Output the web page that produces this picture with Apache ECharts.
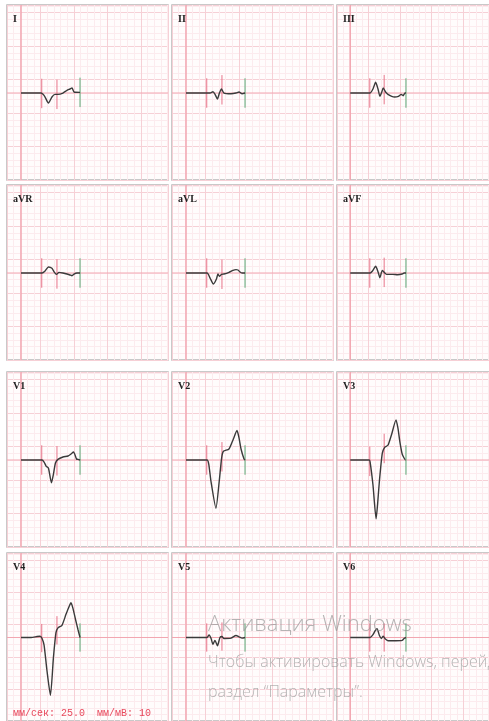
<!DOCTYPE html>
<html>
<head>
<meta charset="utf-8">
<script src="https://cdn.jsdelivr.net/npm/echarts@6/dist/echarts.min.js"></script>
<style>
html,body{margin:0;padding:0;background:#ffffff;}
#c{width:489px;height:721px;}
</style>
</head>
<body>
<div id="c"></div>
<script>
// ---- Data (time in ms from trace start, amplitude in mV) ----
const leadNames = ['I','II','III','aVR','aVL','aVF','V1','V2','V3','V4','V5','V6'];

const leadI   = [[0,0],[120,0],[132,-0.02],[144,-0.06],[164,-0.15],[185,-0.06],[203,-0.02],[221,-0.02],[251,0],[275,0.04],[293,0.06],[305,0.075],[317,0.015],[353,0.01]];
const leadII  = [[0,0],[126,0],[144,0],[161,0.02],[173,-0.015],[188,-0.09],[200,0],[212,0.06],[227,0],[269,-0.01],[299,0],[317,0.015],[335,-0.01],[353,0]];
const leadIII = [[0,0],[126,0],[144,0.06],[161,0.16],[176,0.06],[188,-0.05],[200,0.015],[209,0.075],[224,0.015],[239,-0.02],[263,-0.05],[281,-0.06],[305,-0.05],[323,-0.02],[335,-0.04],[347,0],[353,0]];
const leadAVR = [[0,0],[126,0],[144,0.03],[164,0.09],[185,0.07],[200,0.01],[212,-0.02],[227,0.01],[251,0],[275,-0.015],[293,-0.03],[305,-0.04],[317,-0.015],[335,0],[353,0]];
const leadAVL = [[0,0],[126,0],[144,-0.075],[164,-0.165],[182,-0.09],[191,-0.015],[200,-0.05],[212,-0.02],[227,-0.015],[257,0.01],[281,0.04],[299,0.05],[311,0.045],[323,0.015],[335,0],[353,0]];
const leadAVF = [[0,0],[126,0],[141,0.03],[161,0.1],[176,0.02],[188,-0.07],[203,0.04],[215,0.01],[230,-0.02],[269,-0.02],[299,-0.025],[329,-0.015],[341,0],[353,0]];
const leadV1  = [[0,0],[126,0],[138,-0.03],[150,-0.09],[164,-0.12],[182,-0.34],[194,-0.21],[206,-0.045],[221,0.01],[251,0.045],[281,0.06],[299,0.09],[314,0.12],[332,0.015],[341,0.01],[353,0]];
const leadV2  = [[0,0],[126,0],[136,-0.06],[150,-0.33],[179,-0.72],[199,-0.31],[213,0.03],[224,0.13],[257,0.165],[281,0.3],[305,0.44],[317,0.33],[329,0.165],[347,0.015],[353,0]];
const leadV3  = [[0,0],[120,0],[126,-0.03],[144,-0.37],[164,-0.88],[173,-0.67],[185,-0.31],[203,0.1],[218,0.19],[239,0.22],[263,0.39],[290,0.6],[302,0.48],[314,0.28],[329,0.09],[341,0.03],[350,0],[353,0]];
const leadV4  = [[0,0],[60,0],[96,0.015],[114,0.02],[126,-0.015],[138,-0.12],[155,-0.51],[176,-0.9],[194,-0.31],[209,0.075],[221,0.15],[245,0.19],[269,0.36],[287,0.48],[299,0.54],[311,0.45],[326,0.28],[341,0.12],[353,0]];
const leadV5  = [[0,0],[126,0],[138,0.04],[150,-0.015],[161,-0.105],[173,-0.045],[188,-0.13],[203,0],[215,0.015],[227,-0.015],[269,-0.01],[299,0.03],[317,0.01],[335,-0.01],[353,0]];
const leadV6  = [[0,0],[126,0],[144,0.045],[158,0.105],[170,0.135],[185,0.03],[197,-0.015],[209,0.02],[221,-0.02],[239,-0.05],[287,-0.05],[329,-0.045],[341,-0.015],[353,0]];

const markerTimes = [124, 215, 353];
const markerKinds = ['red', 'red', 'green'];
const markerHalfMv = 0.22;

const speedLabel = 'мм/сек: 25.0';
const gainLabel = 'мм/мВ: 10';
const watermark1 = 'Активация Windows';
const watermark2 = 'Чтобы активировать Windows, перейдите в';
const watermark3 = 'раздел “Параметры”.';

// ---- Layout ----
const PX_PER_MM = 6.69;
const MS_PER_MM = 40;   // 25 mm/s
const MV_PER_MM = 0.1;  // 10 mm/mV
const colLeft = [7, 172, 337];
const rowTop = [5, 185, 372, 553];
const panelW = 161, panelH = 175;
const originX = 14, baseY = 88;

const leads = [leadI, leadII, leadIII, leadAVR, leadAVL, leadAVF, leadV1, leadV2, leadV3, leadV4, leadV5, leadV6];

function valueAt(d, t) {
  for (let k = 1; k < d.length; k++) {
    if (t <= d[k][0]) {
      const a = d[k-1], b = d[k];
      const f = (t - a[0]) / (b[0] - a[0] || 1);
      return a[1] + f * (b[1] - a[1]);
    }
  }
  return d[d.length-1][1];
}

const msPerPx = MS_PER_MM / PX_PER_MM;
const mvPerPx = MV_PER_MM / PX_PER_MM;
const xMin = -originX * msPerPx, xMax = (panelW - originX) * msPerPx;
const yMin = -1.3, yMax = baseY * mvPerPx;
const gridLine = {color: '#f6d0d6', width: 1};
const minorLine = {color: '#fcebee', width: 1};
const refLine = {color: '#f2a6b1', width: 1};

const grids = [], xAxes = [], yAxes = [], series = [], titles = [];
leads.forEach((d, i) => {
  const r = Math.floor(i / 3), c = i % 3;
  grids.push({
    left: colLeft[c], top: rowTop[r], width: panelW, height: panelH,
    show: true, backgroundColor: '#fffcfc', borderColor: '#b8b8b8', borderWidth: 1.5
  });
  xAxes.push({
    type: 'value', gridIndex: i, min: xMin, max: xMax,
    interval: 5 * MS_PER_MM,
    axisLabel: {show: false}, axisTick: {show: false}, axisLine: {show: false},
    splitLine: {show: true, lineStyle: gridLine},
    minorTick: {show: false, splitNumber: 5},
    minorSplitLine: {show: true, lineStyle: minorLine}
  });
  yAxes.push({
    type: 'value', gridIndex: i, min: yMin, max: yMax,
    interval: 5 * MV_PER_MM,
    axisLabel: {show: false}, axisTick: {show: false}, axisLine: {show: false},
    splitLine: {show: true, lineStyle: gridLine},
    minorTick: {show: false, splitNumber: 5},
    minorSplitLine: {show: true, lineStyle: minorLine}
  });
  // baseline and origin reference lines
  series.push({
    type: 'line', xAxisIndex: i, yAxisIndex: i, z: 2,
    showSymbol: false, silent: true, animation: false,
    data: [[xMin, 0], [xMax, 0]], lineStyle: refLine
  });
  series.push({
    type: 'line', xAxisIndex: i, yAxisIndex: i, z: 2,
    showSymbol: false, silent: true, animation: false,
    data: [[0, yMin], [0, yMax]], lineStyle: {color: '#f2a6b1', width: 1.5}
  });
  markerTimes.forEach((t, m) => {
    const v = valueAt(d, t);
    series.push({
      type: 'line', xAxisIndex: i, yAxisIndex: i, z: 3,
      showSymbol: false, silent: true, animation: false,
      data: [[t, v - markerHalfMv], [t, v + markerHalfMv]],
      lineStyle: {color: markerKinds[m] === 'red' ? '#e8758a' : '#58a874', width: 1}
    });
  });
  series.push({
    type: 'line', name: leadNames[i], xAxisIndex: i, yAxisIndex: i, z: 4,
    showSymbol: false, silent: true, animation: false, smooth: 0.2,
    data: d,
    lineStyle: {color: '#3a3a3a', width: 1.4}
  });
  titles.push({
    text: leadNames[i], left: colLeft[c] + 6, top: rowTop[r] + 9, padding: 0,
    textStyle: {fontFamily: 'Liberation Serif', fontWeight: 'bold', fontSize: 10, color: '#222'}
  });
});

const chart = echarts.init(document.getElementById('c'), null, {renderer: 'canvas'});
chart.setOption({
  animation: false,
  backgroundColor: '#ffffff',
  title: titles,
  grid: grids,
  xAxis: xAxes,
  yAxis: yAxes,
  series: series,
  graphic: [
    {type: 'text', left: 13, top: 708, z: 10,
     style: {text: speedLabel + '  ' + gainLabel, fill: '#e8485c', font: '10px "Liberation Mono"'}},
    {type: 'text', left: 208, top: 614, z: 10, silent: true,
     style: {text: watermark1, fill: 'rgba(150,150,150,0.7)', font: '300 22px "Open Sans"'}},
    {type: 'text', left: 208, top: 654, z: 10, silent: true,
     style: {text: watermark2, fill: 'rgba(150,150,150,0.7)', font: '300 16px "Open Sans"'}},
    {type: 'text', left: 208, top: 684, z: 10, silent: true,
     style: {text: watermark3, fill: 'rgba(150,150,150,0.7)', font: '300 16px "Open Sans"'}}
  ]
});
</script>
</body>
</html>
